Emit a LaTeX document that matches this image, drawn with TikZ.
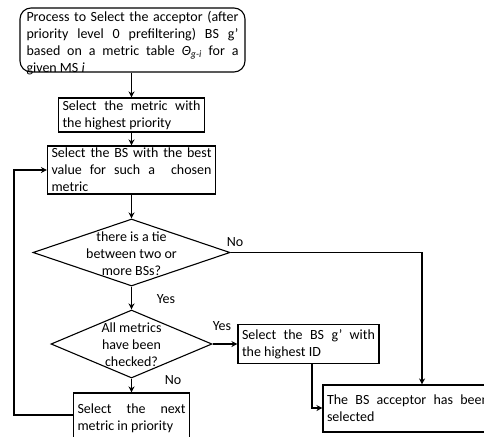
\documentclass[tikz,border=0pt]{standalone}
\usepackage{fontspec}
\setmainfont{Carlito}
\usetikzlibrary{arrows.meta,shapes.geometric}
\begin{document}
\begin{tikzpicture}[x=1pt,y=-1pt,
  every node/.style={font=\fontsize{14}{17}\selectfont},
  box/.style={draw, line width=1.1pt, rectangle, inner xsep=4pt, inner ysep=0pt, align=justify},
  dia/.style={draw, line width=1.1pt, diamond, inner sep=0pt},
  lbl/.style={inner sep=0pt},
  txt/.style={inner sep=0pt},
  arr/.style={line width=1.1pt, -{Stealth[length=6pt,width=6pt]}}]
\useasboundingbox (0,0) rectangle (484,436);
\clip (0,0) rectangle (484,436);

% nodes
\node[draw, line width=1.1pt, rounded corners=11pt, minimum width=225pt, minimum height=64pt] (top) at (132.5,40) {};
\node[txt, align=justify, text width=212pt] (topt) at (132.5,43) {Process to Select the acceptor (after\linebreak priority level 0 prefiltering) BS g’\linebreak based on a metric table \textit{Θ}\textsubscript{\textit{g-i}} for a\linebreak given MS \textit{i}};

\node[box, text width=138pt, minimum width=146pt, minimum height=34pt] (b2) at (131.5,115) {Select the metric with\linebreak the highest priority};
\node[box, text width=160pt, minimum width=168pt, minimum height=48pt] (b3) at (131.5,170) {Select the BS with the best\linebreak value for such a \ chosen\linebreak metric};

\node[dia, minimum width=197pt, minimum height=67pt] (d1) at (131.5,252.5) {};
\node[txt, align=center] (d1t) at (131.5,254) {there is a tie\\between two or\\more BSs?};

\node[dia, minimum width=161pt, minimum height=68pt] (d2) at (131.5,344) {};
\node[txt, align=center] (d2t) at (131.5,345) {All metrics\\have been\\checked?};

\node[box, text width=133pt, minimum width=141pt, minimum height=39pt] (b4) at (308.5,344) {Select the BS g’ with\linebreak the highest ID};
\node[box, text width=162pt, minimum width=170pt, minimum height=47pt] (b5) at (408,408.5) {The BS acceptor has been\linebreak selected};
\node[box, text width=108pt, minimum width=116pt, minimum height=50pt] (b6) at (131.5,418) {Select the next\linebreak metric in priority};

% labels
\node[lbl] (lno1) at (235,242) {No};
\node[lbl] (lyes1) at (166,299) {Yes};
\node[lbl] (lyes2) at (222,326) {Yes};
\node[lbl] (lno2) at (173,380) {No};

% connectors
\draw[arr] (b2.north |- top.south) -- (b2.north);
\draw[arr] (b2.south) -- (b3.north);
\draw[arr] (b3.south) -- (d1.north);
\coordinate (cNo) at (422,252.5);
\draw[arr] (d1.east) -- (cNo) -- (cNo |- b5.north);
\draw[arr] (d1.south) -- (d2.north);
\draw[arr] (d2.east) -- (b4.west);
\draw[arr] (d2.south) -- (b6.north);
\coordinate (c4) at (312,408);
\draw[arr] (c4 |- b4.south) -- (c4) -- (c4 -| b5.west);
\coordinate (cL) at (14,415);
\draw[arr] (cL -| b6.west) -- (cL) -- (cL |- b3.west) -- (b3.west);
\end{tikzpicture}
\end{document}
